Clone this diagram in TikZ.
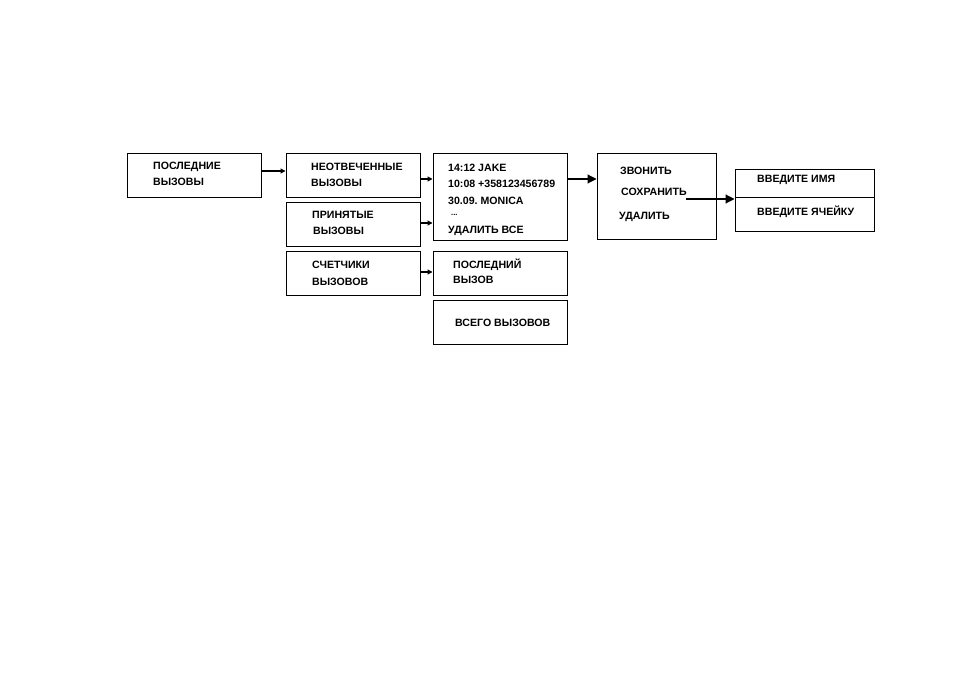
\documentclass[tikz,border=0pt]{standalone}
\usepackage{fontspec}
\setmainfont{Liberation Sans}
\usetikzlibrary{arrows.meta,positioning}
\begin{document}
\frenchspacing
\begin{tikzpicture}[x=1pt,y=-1pt,
  boxs/.style={draw, line width=1pt, rectangle, inner sep=0pt},
  lbl/.style={anchor=base west, inner sep=0pt, font=\fontsize{10.6}{12}\selectfont\bfseries},
  arr/.style={line width=1.1pt, -{Triangle[length=5pt,width=5pt]}},
  bigarr/.style={line width=1.1pt, -{Triangle[length=9pt,width=9pt]}}]
\useasboundingbox (0,0) rectangle (954,685);
% boxes
\node[boxs, minimum width=134pt, minimum height=44pt] (b1) at (194,175) {};
\node[boxs, minimum width=134pt, minimum height=44pt] (b2) at (353,175) {};
\node[boxs, minimum width=134pt, minimum height=44pt] (b3) at (353,224) {};
\node[boxs, minimum width=134pt, minimum height=44pt] (b4) at (353,273) {};
\node[boxs, minimum width=134pt, minimum height=87pt] (b5) at (500,196.5) {};
\node[boxs, minimum width=134pt, minimum height=44pt] (b6) at (500,273) {};
\node[boxs, minimum width=134pt, minimum height=44pt] (b7) at (500,322) {};
\node[boxs, minimum width=119pt, minimum height=86pt] (b8) at (656.5,196) {};
\node[boxs, minimum width=139pt, minimum height=62pt] (b9) at (804.5,200) {};
\foreach \b in {b1,b2,b3,b4,b5,b6,b7,b8,b9}
  \draw[line width=1.8pt] (\b.north east) -- (\b.south east) -- (\b.south west);
\draw[line width=1pt] (b9.west |- 0,197) -- (b9.east |- 0,197);
% texts
\node[lbl] (t1a) at (153,169) {ПОСЛЕДНИЕ};
\node[lbl] (t1b) at (153,185) {ВЫЗОВЫ};
\node[lbl] (t2a) at (311,170) {НЕОТВЕЧЕННЫЕ};
\node[lbl] (t2b) at (311,186) {ВЫЗОВЫ};
\node[lbl] (t3a) at (312,218) {ПРИНЯТЫЕ};
\node[lbl] (t3b) at (313,234) {ВЫЗОВЫ};
\node[lbl] (t4a) at (312,268) {СЧЕТЧИКИ};
\node[lbl] (t4b) at (312,285) {ВЫЗОВОВ};
\node[lbl] (t5a) at (448,171) {14:12 JAKE};
\node[lbl] (t5b) at (448,187) {10:08 +358123456789};
\node[lbl] (t5c) at (448,204) {30.09. MONICA};
\node[lbl, font=\fontsize{7.5}{8}\selectfont\bfseries] (t5d) at (451,215) {...};
\node[lbl] (t5e) at (448,233) {УДАЛИТЬ ВСЕ};
\node[lbl] (t6a) at (453,268) {ПОСЛЕДНИЙ};
\node[lbl] (t6b) at (453,283) {ВЫЗОВ};
\node[lbl] (t7a) at (455,326) {ВСЕГО ВЫЗОВОВ};
\node[lbl] (t8a) at (620,174) {ЗВОНИТЬ};
\node[lbl] (t8b) at (621,195) {СОХРАНИТЬ};
\node[lbl] (t8c) at (619,219) {УДАЛИТЬ};
\node[lbl] (t9a) at (757,182) {ВВЕДИТЕ ИМЯ};
\node[lbl] (t9b) at (757,215) {ВВЕДИТЕ ЯЧЕЙКУ};
% connectors
\coordinate (s8) at (686,199);
\draw[arr] (b1.east |- 0,171) -- (b2.west |- 0,171);
\draw[arr] (b2.east |- 0,179) -- (b5.west |- 0,179);
\draw[arr] (b3.east |- 0,223) -- (b5.west |- 0,223);
\draw[arr] (b4.east |- 0,272) -- (b6.west |- 0,272);
\draw[bigarr] (b5.east |- 0,179) -- (b8.west |- 0,179);
\draw[bigarr] (s8) -- (b9.west |- s8);
\end{tikzpicture}
\end{document}
